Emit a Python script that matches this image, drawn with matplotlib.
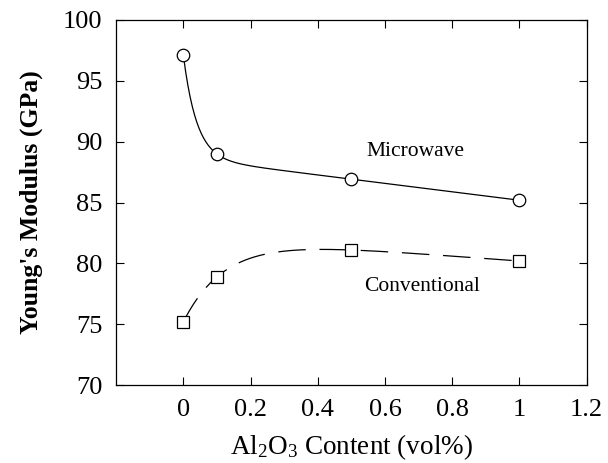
import numpy as np
import matplotlib
matplotlib.use('Agg')
import matplotlib.pyplot as plt

#Fonts : Times-like serif everywhere
plt.rcParams['font.family'] = 'Liberation Serif'
plt.rcParams['mathtext.fontset'] = 'custom'
plt.rcParams['mathtext.rm'] = 'Liberation Serif'
plt.rcParams['mathtext.it'] = 'Liberation Serif:italic'

#Data
al2o3 = [0, 0.1, 0.5, 1.0]
microwave = [97.1, 89.0, 86.9, 85.2]
conventional = [75.2, 78.9, 81.1, 80.2]

x_ticks = [0, 0.2, 0.4, 0.6, 0.8, 1.0, 1.2]
x_tick_labels = ['0', '0.2', '0.4', '0.6', '0.8', '1', '1.2']
y_ticks = [70, 75, 80, 85, 90, 95, 100]


def smooth_fit(x, y):
    """ fit y = a + b*x + c*exp(-x/tau), pick tau by least squares """
    x = np.asarray(x, float)
    y = np.asarray(y, float)
    best = None
    for tau in np.linspace(0.01, 1.0, 400):
        A = np.column_stack([np.ones_like(x), x, np.exp(-x / tau)])
        coef, res, _, _ = np.linalg.lstsq(A, y, rcond=None)
        err = np.sum((A @ coef - y) ** 2)
        if best is None or err < best[0]:
            best = (err, tau, coef)
    _, tau, coef = best
    xs = np.linspace(x.min(), x.max(), 300)
    ys = coef[0] + coef[1] * xs + coef[2] * np.exp(-xs / tau)
    return xs, ys


fig = plt.figure(figsize=(6.08, 4.63), dpi=100)
ax = fig.add_axes([0.191, 0.168, 0.774, 0.789])

#Microwave : solid curve with circles
xs, ys = smooth_fit(al2o3, microwave)
ax.plot(xs, ys, color='black', lw=0.9, zorder=2)
ax.plot(al2o3, microwave, 'o', ms=9, mfc='white', mec='black', mew=0.9, ls='none', zorder=3)

#Conventional : dashed curve with squares
xs, ys = smooth_fit(al2o3, conventional)
ax.plot(xs, ys, color='black', lw=0.9, dashes=(22, 11), zorder=2)
ax.plot(al2o3, conventional, 's', ms=8.5, mfc='white', mec='black', mew=0.9, ls='none', zorder=3)

ax.text(0.69, 89.2, 'Microwave', ha='center', va='center', fontsize=15.5)
ax.text(0.71, 78.1, 'Conventional', ha='center', va='center', fontsize=15.5)

ax.set_xlim(-0.2, 1.2)
ax.set_ylim(70, 100)
ax.set_xticks(x_ticks)
ax.set_xticklabels(x_tick_labels)
ax.set_yticks(y_ticks)
ax.tick_params(direction='in', top=True, right=True, length=6, width=0.8,
               labelsize=19, pad=10)
for s in ax.spines.values():
    s.set_linewidth(0.9)

ax.set_xlabel(r'Al$_\mathrm{2}$O$_\mathrm{3}$ Content (vol%)', fontsize=19.5, labelpad=8)
ax.set_ylabel("Young's Modulus (GPa)", fontsize=18.5, fontweight='bold', labelpad=14)

fig.savefig('out.png', dpi=100)
